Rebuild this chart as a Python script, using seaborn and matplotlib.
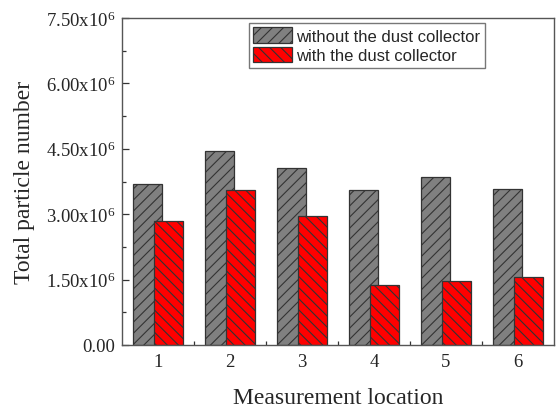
import matplotlib
matplotlib.use("Agg")
import matplotlib.pyplot as plt
import seaborn as sns
import numpy as np
import pandas as pd
from matplotlib.ticker import FixedLocator, FuncFormatter
from matplotlib.patches import Patch

locations = [1, 2, 3, 4, 5, 6]
without_collector = [3.69e6, 4.45e6, 4.05e6, 3.55e6, 3.85e6, 3.58e6]
with_collector = [2.84e6, 3.56e6, 2.97e6, 1.38e6, 1.46e6, 1.55e6]
series_names = ["without the dust collector", "with the dust collector"]
y_ticks = [0, 1.5e6, 3.0e6, 4.5e6, 6.0e6, 7.5e6]

sns.set_style("ticks")
plt.rcParams["font.family"] = ["Liberation Serif", "DejaVu Serif"]
plt.rcParams["mathtext.default"] = "regular"
plt.rcParams["hatch.linewidth"] = 0.8

fig = plt.figure(figsize=(5.56, 4.10), dpi=100)
ax = fig.add_axes([122 / 556, 64 / 410, 432 / 556, 327 / 410])

offset = 0.146
width = 0.41
df1 = pd.DataFrame({"loc": np.array(locations) - offset, "val": without_collector})
df2 = pd.DataFrame({"loc": np.array(locations) + offset, "val": with_collector})

sns.barplot(data=df1, x="loc", y="val", native_scale=True, width=width,
            color="#808080", saturation=1, edgecolor="#333333", linewidth=0.9,
            hatch="///", ax=ax)
sns.barplot(data=df2, x="loc", y="val", native_scale=True, width=width,
            color="#ff0000", saturation=1, edgecolor="#333333", linewidth=0.9,
            hatch="\\\\\\", ax=ax)

ax.set_xlim(0.5, 6.5)
ax.set_ylim(0, 7.5e6)
ax.set_xticks(locations)
ax.set_xticklabels([str(l) for l in locations])
ax.xaxis.set_minor_locator(FixedLocator([1.5, 2.5, 3.5, 4.5, 5.5]))
ax.set_yticks(y_ticks)
ax.yaxis.set_minor_locator(FixedLocator([0.75e6, 2.25e6, 3.75e6, 5.25e6, 6.75e6]))


def fmt(v, pos):
    if v == 0:
        return "0.00"
    return "%.2fx10$^{6}$" % (v / 1e6)


ax.yaxis.set_major_formatter(FuncFormatter(fmt))
ax.tick_params(axis="both", which="major", direction="in", length=5,
               width=0.9, color="#333333", labelsize=13.5, pad=5)
ax.tick_params(axis="both", which="minor", direction="in", length=3,
               width=0.9, color="#333333")
ax.tick_params(axis="x", which="major", length=0, pad=6)

for s in ax.spines.values():
    s.set_visible(True)
    s.set_color("#555555")
    s.set_linewidth(1.0)

ax.set_xlabel("Measurement location", fontsize=17, labelpad=12)
ax.set_ylabel("Total particle number", fontsize=17, labelpad=8)

handles = [
    Patch(facecolor="#808080", edgecolor="#333333", hatch="///", linewidth=0.9),
    Patch(facecolor="#ff0000", edgecolor="#333333", hatch="\\\\\\", linewidth=0.9),
]
leg = ax.legend(handles, series_names, loc="upper left",
                bbox_to_anchor=(249 / 556, 1 - 24 / 410),
                bbox_transform=fig.transFigure,
                prop={"family": "Liberation Sans", "size": 12},
                frameon=True, fancybox=False, handlelength=2.3,
                handleheight=1.05, handletextpad=0.3, labelspacing=0.2,
                borderpad=0.25, borderaxespad=0)
leg.get_frame().set_edgecolor("#555555")
leg.get_frame().set_linewidth(1.0)

fig.savefig("out.png", dpi=100)
